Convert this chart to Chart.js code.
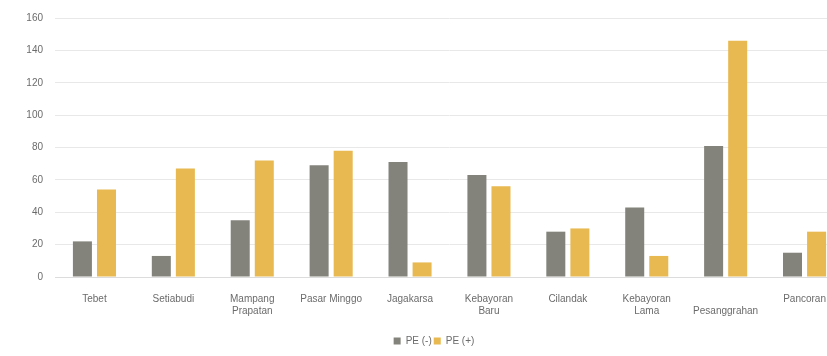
<!DOCTYPE html>
<html lang="en">
<head>
    <meta charset="UTF-8">
    <title>PE per Kecamatan</title>
    <script src="https://cdn.jsdelivr.net/npm/chart.js"></script>
    <style>
        html, body {
            margin: 0;
            padding: 0;
            background: #ffffff;
            overflow: hidden;
        }
        .chart-container {
            position: relative;
            width: 844px;
            height: 356px;
        }
    </style>
</head>
<body>
    <div class="chart-container">
        <canvas id="peChart"></canvas>
    </div>

    <script>
        // Kecamatan names (multi-line where the original wraps)
        const categories = [
            'Tebet',
            'Setiabudi',
            ['Mampang', 'Prapatan'],
            'Pasar Minggo',
            'Jagakarsa',
            ['Kebayoran', 'Baru'],
            'Cilandak',
            ['Kebayoran', 'Lama'],
            ['', 'Pesanggrahan'],
            'Pancoran'
        ];

        const peMinus = [22, 13, 35, 69, 71, 63, 28, 43, 81, 15];
        const pePlus = [54, 67, 72, 78, 9, 56, 30, 13, 146, 28];

        const textColor = '#6b6b6b';
        const fontFamily = "'Liberation Sans', Arial, sans-serif";

        new Chart(document.getElementById('peChart'), {
            type: 'bar',
            data: {
                labels: categories,
                datasets: [
                    {
                        label: 'PE (-)',
                        data: peMinus,
                        backgroundColor: '#84837b'
                    },
                    {
                        label: 'PE (+)',
                        data: pePlus,
                        backgroundColor: '#e8b951'
                    }
                ]
            },
            options: {
                responsive: true,
                maintainAspectRatio: false,
                animation: false,
                categoryPercentage: 0.61,
                barPercentage: 0.79,
                layout: {
                    padding: { left: 24, right: 0, top: 13, bottom: 0 }
                },
                scales: {
                    x: {
                        grid: { display: false },
                        border: { color: '#dcdcdc' },
                        ticks: {
                            color: textColor,
                            font: { family: fontFamily, size: 10 },
                            maxRotation: 0,
                            autoSkip: false,
                            padding: 8
                        },
                        afterFit(scale) {
                            scale.height += 9;
                        }
                    },
                    y: {
                        min: 0,
                        max: 160,
                        ticks: {
                            stepSize: 20,
                            color: textColor,
                            font: { family: fontFamily, size: 10 },
                            padding: 12
                        },
                        grid: {
                            color: '#e8e8e8',
                            drawTicks: false
                        },
                        border: { display: false },
                        afterFit(scale) {
                            scale.width = 31;
                        }
                    }
                },
                plugins: {
                    legend: {
                        position: 'bottom',
                        labels: {
                            color: textColor,
                            font: { family: fontFamily, size: 10 },
                            boxWidth: 7,
                            boxHeight: 7,
                            padding: 2
                        }
                    },
                    tooltip: { enabled: false }
                }
            }
        });
    </script>
</body>
</html>
